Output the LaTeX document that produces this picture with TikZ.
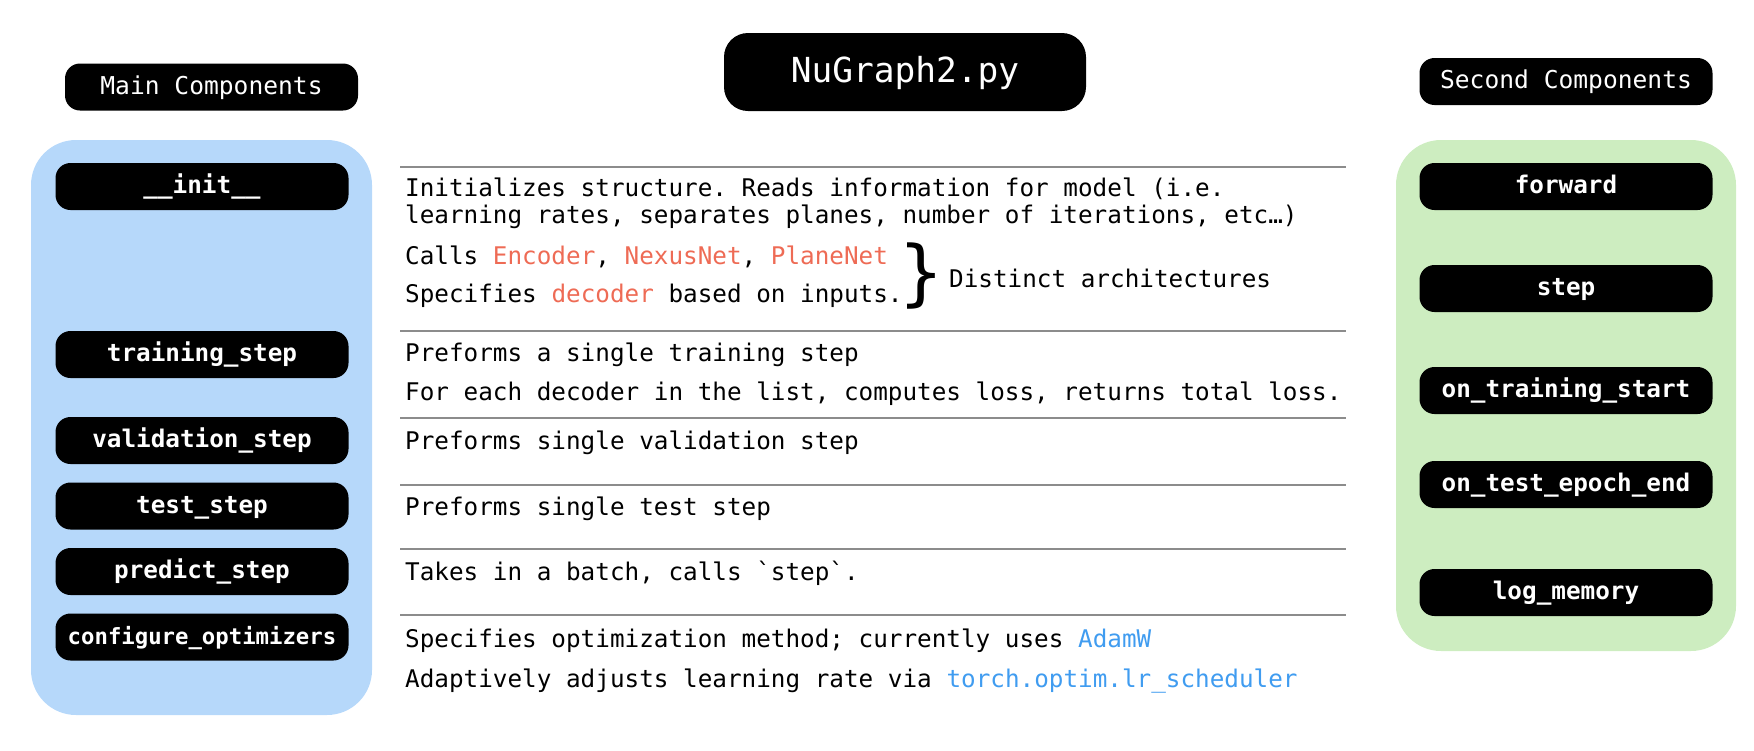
\documentclass[tikz,border=0pt]{standalone}
\usepackage{fontspec}
\setmonofont{DejaVu Sans Mono}
\newfontfamily\bracefont{DejaVu Sans}
\usepackage{xcolor}
\usepackage{tikz}
\definecolor{mainblue}{RGB}{182, 216, 250}
\definecolor{secondgreen}{RGB}{205, 237, 192}
\definecolor{archred}{RGB}{238, 107, 85}
\definecolor{optimblue}{RGB}{64, 156, 240}
\definecolor{rulegray}{RGB}{140, 140, 140}

\begin{document}
\begin{tikzpicture}[x=1pt, y=-1pt,
    method/.style={fill=black, text=white, rounded corners=15pt, minimum width=293pt, minimum height=47pt,
        inner sep=0pt, text height=19.7pt, text depth=5pt, font=\ttfamily\bfseries\fontsize{24.3}{29}\selectfont},
    header/.style={method, font=\ttfamily\fontsize{24.6}{29}\selectfont},
    desc/.style={anchor=base west, inner sep=0pt, font=\ttfamily\fontsize{24.3}{29}\selectfont},
    divider/.style={draw=rulegray, line width=2pt}]
    \useasboundingbox (0,0) rectangle (1754,750);

    % Column backgrounds
    \fill[mainblue, rounded corners=45pt] (31,140) rectangle (372,715);
    \fill[secondgreen, rounded corners=45pt] (1396,140) rectangle (1736,651);

    % Headers
    \node[header] (maincomp) at (211.5,87) {Main Components};
    \node[header, minimum width=362pt, minimum height=78pt, rounded corners=24pt, text height=27pt, text depth=7pt,
        font=\ttfamily\fontsize{34.5}{40}\selectfont] (nugraph) at (905,72) {NuGraph2.py};
    \node[header] (secondcomp) at (1566,81.5) {Second Components};

    % Main components
    \node[method] (init) at (202,186.5) {\_\_init\_\_};
    \node[method] (trainstep) at (202,354.5) {training\_step};
    \node[method] (valstep) at (202,440.5) {validation\_step};
    \node[method] (teststep) at (202,506) {test\_step};
    \node[method] (predstep) at (202,571.5) {predict\_step};
    \node[method, font=\ttfamily\bfseries\fontsize{22.3}{27}\selectfont] (configopt) at (202,637) {configure\_optimizers};

    % Second components
    \node[method] (forward) at (1566,186.5) {forward};
    \node[method] (step) at (1566,288.5) {step};
    \node[method] (trainstart) at (1566,390.5) {on\_training\_start};
    \node[method] (testend) at (1566,484.5) {on\_test\_epoch\_end};
    \node[method] (logmem) at (1566,592.5) {log\_memory};

    % Row dividers
    \foreach \y in {167, 331, 418, 485, 549, 615}
        \draw[divider] (400,\y) -- (1346,\y);

    % Descriptions
    \node[desc] (initA) at (405,196) {Initializes structure. Reads information for model (i.e.};
    \node[desc] (initB) at (405,223) {learning rates, separates planes, number of iterations, etc…)};
    \node[desc] (initC) at (405,264) {Calls \textcolor{archred}{Encoder}, \textcolor{archred}{NexusNet}, \textcolor{archred}{PlaneNet}};
    \node[desc] (initD) at (405,302) {Specifies \textcolor{archred}{decoder} based on inputs.};
    \node[font=\bracefont\fontsize{72}{72}\selectfont, inner sep=0pt] (archbrace) at (921,276) {\}};
    \node[desc] (archnote) at (949,287) {Distinct architectures};

    \node[desc] (trainA) at (405,361) {Preforms a single training step};
    \node[desc] (trainB) at (405,400) {For each decoder in the list, computes loss, returns total loss.};
    \node[desc] (valA) at (405,449) {Preforms single validation step};
    \node[desc] (testA) at (405,515) {Preforms single test step};
    \node[desc] (predA) at (405,580) {Takes in a batch, calls `step`.};
    \node[desc] (optA) at (405,647) {Specifies optimization method; currently uses \textcolor{optimblue}{AdamW}};
    \node[desc] (optB) at (405,687) {Adaptively adjusts learning rate via \textcolor{optimblue}{torch.optim.lr\_scheduler}};
\end{tikzpicture}
\end{document}
